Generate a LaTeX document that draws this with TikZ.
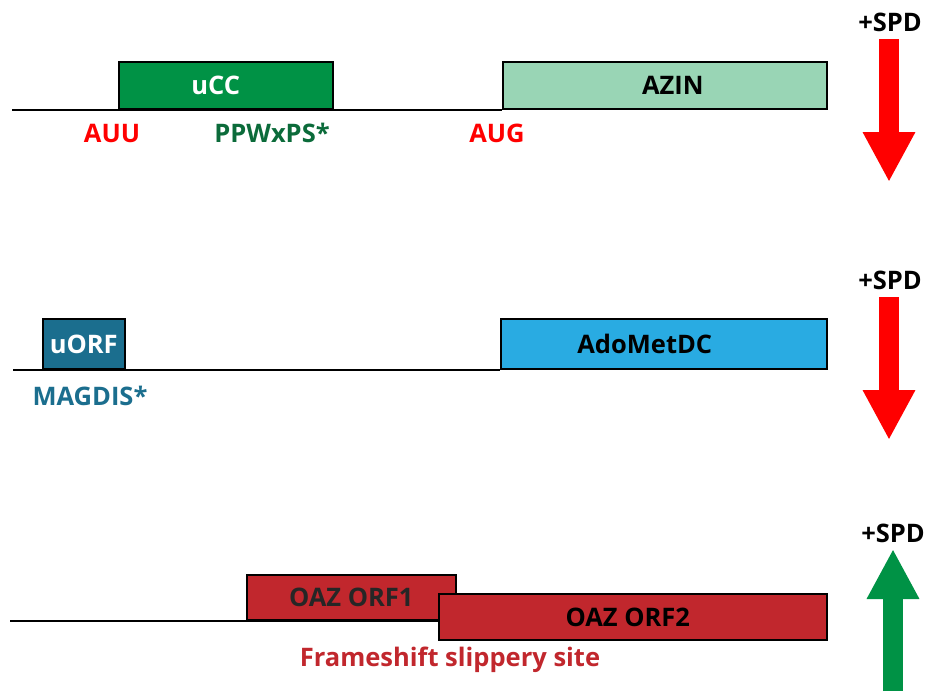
\documentclass[tikz,border=0pt]{standalone}
\usepackage{fontspec}
\setmainfont{Open Sans}
\usetikzlibrary{arrows.meta}

\definecolor{ucc}{HTML}{009245}
\definecolor{uccdark}{HTML}{0B6B3A}
\definecolor{azin}{HTML}{99D5B5}
\definecolor{uorf}{HTML}{1B6E8E}
\definecolor{adomet}{HTML}{29ABE2}
\definecolor{oaz}{HTML}{C1272D}
\definecolor{spdred}{HTML}{FF0000}

% shift a box label left of the centre
\newcommand{\leftby}[2]{\hspace*{-#1}#2}

\begin{document}
\begin{tikzpicture}[x=1pt,y=-1pt,
  every node/.style={font=\fontsize{25.5}{30}\selectfont\bfseries},
  orf/.style={draw=black,line width=1.6pt,anchor=south west,inner sep=0pt},
  mrna/.style={line width=1.6pt},
  spd/.style={line width=20pt,-{Triangle[width=49pt,length=50pt]}}]
\useasboundingbox (0,0) rectangle (932,691);

% AZIN row
\draw[mrna] (12,110) -- (502,110);
\node[orf,fill=ucc,text=white,minimum width=214pt,minimum height=47pt] (ucc) at (118,110) {\leftby{20pt}{uCC}};
\node[orf,fill=azin,minimum width=324pt,minimum height=47pt] (azin) at (502,110) {AZIN\hspace*{-16pt}};
\node[text=spdred] (auu) at (112,133) {AUU};
\node[text=uccdark] (ppw) at (272,133) {PPWxPS*};
\node[text=spdred] (aug) at (497,133) {AUG};
\node (spd1) at (890,22) {+SPD};
\draw[spd,spdred] (889,39) -- (889,182);

% AdoMetDC row
\draw[mrna] (13,370) -- (500,370);
\node[orf,fill=uorf,text=white,minimum width=82pt,minimum height=50pt] (uorf) at (42,370) {uORF};
\node[orf,fill=adomet,minimum width=326pt,minimum height=50pt] (adomet) at (500,370) {\leftby{38pt}{AdoMetDC}};
\node[text=uorf] (magdis) at (90,396) {MAGDIS*};
\node (spd2) at (890,280) {+SPD};
\draw[spd,spdred] (889,297) -- (889,440);

% OAZ row
\draw[mrna] (10,621) -- (440,621);
\node[orf,fill=oaz,text=black!85,minimum width=209pt,minimum height=45pt] (orf1) at (246,621) {OAZ ORF1};
\node[orf,fill=oaz,minimum width=388pt,minimum height=46pt] (orf2) at (438,641) {\leftby{10pt}{OAZ ORF2}};
\node[text=oaz] (slip) at (450,660) {Frameshift slippery site};
\node (spd3) at (893,533) {+SPD};
\draw[spd,ucc] (893,691) -- (893,549);
\end{tikzpicture}
\end{document}
